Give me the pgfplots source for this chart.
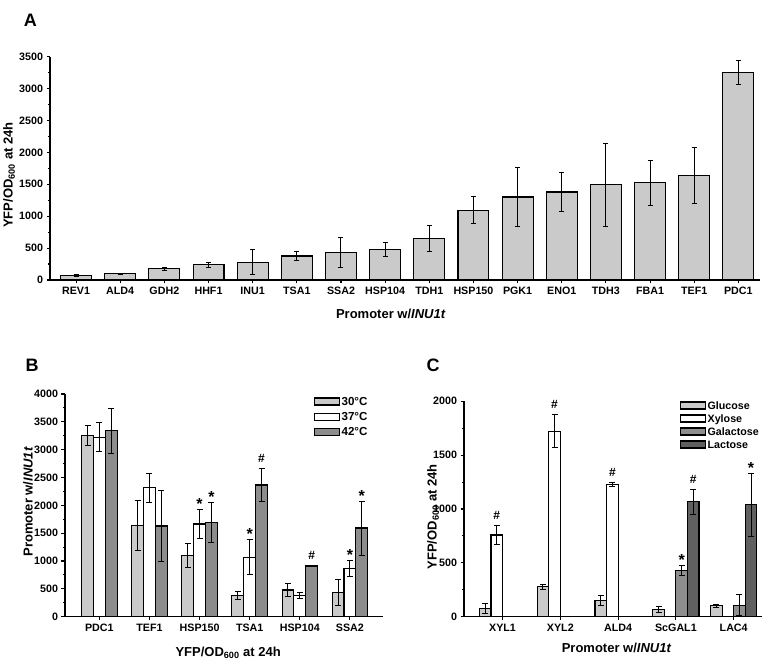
\documentclass[border=0pt]{standalone}
\usepackage{fontspec}
\setmainfont{Liberation Sans}
\usepackage{pgfplots}
\pgfplotsset{compat=1.18}
\definecolor{lg}{RGB}{202,202,202}
\definecolor{dg}{RGB}{140,140,140}
\definecolor{gal}{RGB}{142,142,142}
\definecolor{lac}{RGB}{96,96,96}
\newcommand{\tickfont}{\bfseries\fontsize{10.7}{12}\selectfont}
\newcommand{\labfont}{\bfseries\fontsize{13}{15}\selectfont}
\newcommand{\symfont}{\bfseries\fontsize{12}{14}\selectfont}
\newcommand{\starfont}{\bfseries\fontsize{16}{18}\selectfont}
\pgfplotsset{
  panel/.style={
    scale only axis,
    axis lines*=left,
    axis line style={line width=1.2pt,black},
    every tick/.style={line width=1.1pt,black},
    tick align=outside,
    major tick length=3.5pt,
    minor tick length=2pt,
    ymin=0,
    ybar,
    clip=false,
    minor y tick num=1,
    /pgf/number format/assume math mode=true,
    /pgf/number format/1000 sep={},
    ticklabel style={font=\tickfont},
    label style={font=\labfont},
    error bars/y dir=both,
    error bars/y explicit,
    error bars/error bar style={line width=1pt,black},
    error bars/error mark options={rotate=90,black,line width=1pt,mark size=3pt},
    legend style={draw=none,fill=none,inner sep=0pt,outer sep=0pt,font=\tickfont,
      column sep=0.5pt,
      nodes={inner sep=1pt,text height=0.72em,text depth=0pt}},
    legend cell align=left,
  },
  barsty/.style={draw=black, line width=1.1pt, fill=#1,
     legend image code/.code={\draw[draw=black,line width=1.1pt,fill=#1] (0pt,-3.5pt) rectangle (25pt,3.5pt);}},
}
\tikzset{
  sstar/.style={font=\starfont,anchor=base,yshift=0pt},
  shash/.style={font=\symfont,anchor=base,yshift=6pt},
}
\begin{document}
\begin{tikzpicture}
\useasboundingbox (0pt,0pt) rectangle (765pt,664pt);
\node[font=\bfseries\fontsize{18}{20}\selectfont] at (30.3pt,643.2pt) {A};
\node[font=\bfseries\fontsize{18}{20}\selectfont] at (32pt,299pt) {B};
\node[font=\bfseries\fontsize{18}{20}\selectfont] at (433pt,299pt) {C};

% ---------------- Panel A
\begin{axis}[panel, at={(50pt,384pt)}, anchor=south west, width=710pt, height=223.3pt,
  xmin=-0.59, xmax=15.49, ymax=3500, ytick={0,500,...,3500},
  xtick={0,...,15},
  xticklabels={REV1,ALD4,GDH2,HHF1,INU1,TSA1,SSA2,HSP104,TDH1,HSP150,PGK1,ENO1,TDH3,FBA1,TEF1,PDC1},
  bar width=0.7,
  xlabel={Promoter w/\textit{INU1t}},
  ylabel={YFP/OD\textsubscript{600} at 24h},
  xlabel style={at={(axis description cs:0.48,-0.152)},anchor=center},
  ylabel style={at={(axis description cs:-0.0577,0.47)},anchor=center},
  error bars/error mark options={rotate=90,black,line width=1pt,mark size=2.5pt},
]
\addplot[barsty=lg, bar shift=0] coordinates {
(0,68) +- (0,12)
(1,95) +- (0,10)
(2,178) +- (0,25)
(3,237) +- (0,45)
(4,280) +- (0,200)
(5,376) +- (0,75)
(6,428) +- (0,235)
(7,478) +- (0,110)
(8,648) +- (0,200)
(9,1095) +- (0,212)
(10,1301) +- (0,460)
(11,1379) +- (0,305)
(12,1490) +- (0,655)
(13,1526) +- (0,352)
(14,1641) +- (0,442)
(15,3250) +- (0,185)
};
\end{axis}

% ---------------- Panel B
\begin{axis}[panel, at={(65pt,47.3pt)}, anchor=south west, width=318pt, height=222.7pt,
  xmin=-0.685, xmax=5.66, ymax=4000, ytick={0,500,...,4000},
  xtick={0,...,5},
  xticklabels={PDC1,TEF1,HSP150,TSA1,HSP104,SSA2},
  bar width=0.236,
  xlabel={YFP/OD\textsubscript{600} at 24h},
  ylabel={Promoter w/\textit{INU1t}},
  xlabel style={at={(axis description cs:0.513,-0.163)},anchor=center},
  ylabel style={at={(axis description cs:-0.116,0.516)},anchor=center},
  legend style={at={(axis description cs:0.783,0.987)},anchor=north west,row sep=6pt,
    font=\bfseries\fontsize{11.6}{13}\selectfont},
]
\addplot[barsty=lg, bar shift=-0.236] coordinates {
(0,3250) +- (0,180)
(1,1641) +- (0,443)
(2,1096) +- (0,212)
(3,383) +- (0,78)
(4,479) +- (0,120)
(5,431) +- (0,233)
};
\addlegendentry{30°C}
\addplot[barsty=white, bar shift=0] coordinates {
(0,3222) +- (0,258)
(1,2317) +- (0,258)
(2,1665) +- (0,252)
(3,1066) +- (0,314)
(4,383) +- (0,48)
(5,868) +- (0,138)
};
\addlegendentry{37°C}
\addplot[barsty=dg, bar shift=0.236] coordinates {
(0,3341) +- (0,402)
(1,1629) +- (0,641)
(2,1695) +- (0,354)
(3,2365) +- (0,290)
(4,910) +- (0,12)
(5,1593) +- (0,485)
};
\addlegendentry{42°C}
\node[sstar] at (axis cs:2,1917) {*};
\node[sstar] at (axis cs:2.236,2049) {*};
\node[sstar] at (axis cs:3,1380) {*};
\node[shash] at (axis cs:3.236,2655) {\#};
\node[shash] at (axis cs:4.236,922) {\#};
\node[sstar] at (axis cs:5,1006) {*};
\node[sstar] at (axis cs:5.236,2078) {*};
\end{axis}

% ---------------- Panel C
\begin{axis}[panel, at={(464pt,47.3pt)}, anchor=south west, width=298pt, height=215.4pt,
  xmin=-0.667, xmax=4.49, ymax=2000, ytick={0,500,...,2000},
  xtick={0,...,4},
  xticklabels={XYL1,XYL2,ALD4,ScGAL1,LAC4},
  bar width=0.2,
  xlabel={Promoter w/\textit{INU1t}},
  ylabel={YFP/OD\textsubscript{600} at 24h},
  xlabel style={at={(axis description cs:0.512,-0.145)},anchor=center},
  ylabel style={at={(axis description cs:-0.104,0.464)},anchor=center},
  legend style={at={(axis description cs:0.725,1.002)},anchor=north west,row sep=3.8pt},
]
\addplot[barsty=lg, bar shift=-0.3] coordinates {
(0,77) +- (0,48)
(1,279) +- (0,23)
(2,149) +- (0,47)
(3,71) +- (0,28)
(4,102) +- (0,13)
};
\addlegendentry{Glucose}
\addplot[barsty=white, bar shift=-0.1] coordinates {
(0,759) +- (0,84)
(1,1721) +- (0,153)
(2,1226) +- (0,19)
};
\addlegendentry{Xylose}
\addplot[barsty=gal, bar shift=0.1] coordinates {
(3,433) +- (0,47)
(4,105) +- (0,98)
};
\addlegendentry{Galactose}
\addplot[barsty=lac, bar shift=0.3] coordinates {
(3,1068) +- (0,115)
(4,1040) +- (0,291)
};
\addlegendentry{Lactose}
\node[shash] at (axis cs:-0.1,843) {\#};
\node[shash] at (axis cs:0.9,1874) {\#};
\node[shash] at (axis cs:1.9,1245) {\#};
\node[sstar] at (axis cs:3.1,480) {*};
\node[shash] at (axis cs:3.3,1183) {\#};
\node[sstar] at (axis cs:4.3,1331) {*};
\end{axis}
\end{tikzpicture}
\end{document}
